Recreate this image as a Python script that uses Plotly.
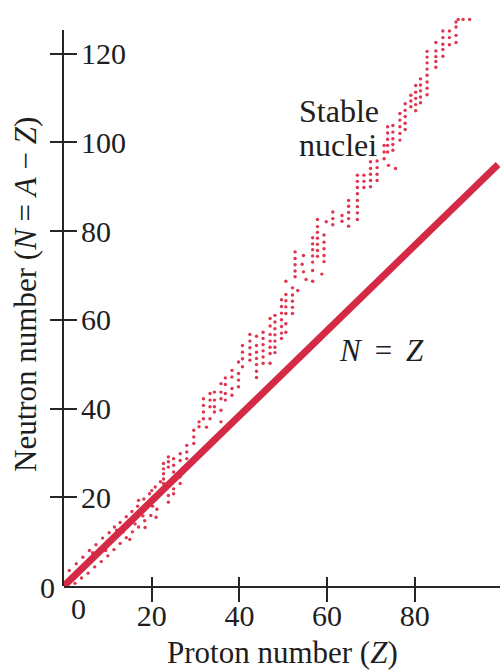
import plotly.graph_objects as go

# ---- data ----
# N = Z reference line (as drawn)
LINE_Z = [0, 99]
LINE_N = [0, 95]

# light stable nuclei straddling the N = Z line
LIGHT_Z = [1.2, 2.8, 4.3, 5.8, 7.3, 8.8, 10.3, 11.5, 12.8, 14.2, 15.5, 16.8, 18.2, 19.5, 20.8, 22.0,
           2.5, 4.0, 5.5, 7.0, 8.5, 10.0, 11.4, 12.8, 14.2, 15.6, 17.0, 18.4, 19.8, 21.2,
           6.5, 9.5, 12.0, 13.5, 15.0, 16.2, 17.5, 18.0, 19.0, 20.2, 21.5, 20.0, 17.0,
           15.0, 18.5, 21.0]
LIGHT_N = [3.5, 5.0, 6.5, 8.0, 9.3, 10.8, 12.0, 13.3, 14.3, 15.6, 16.8, 18.0, 19.6, 20.8, 22.3, 23.5,
           0.6, 1.8, 2.9, 4.3, 5.5, 6.8, 8.2, 9.6, 10.9, 12.2, 13.3, 14.7, 15.9, 17.3,
           7.5, 8.0, 12.6, 12.2, 14.8, 14.0, 17.0, 15.8, 18.5, 18.0, 20.3, 21.5, 19.3,
           10.5, 13.2, 15.5]

# heavier stable nuclei: proton number column -> neutron numbers
COLUMN_Z = [22.7, 23.8, 25.0, 26.5, 28.0, 29.6, 30.8, 31.8, 32.5, 33.3, 34.3, 35.8, 36.8, 38.3,
            39.8, 40.7, 42.4, 43.9, 45.4, 47.0, 48.1, 49.6, 50.6, 52.1, 52.7, 53.3, 54.3, 54.6,
            55.2, 56.7, 57.8, 58.8, 59.3, 59.8, 61.3, 63.4, 64.9, 66.9, 68.4, 69.9, 71.4, 73.0,
            73.8, 74.0, 75.0, 75.6, 76.6, 77.8, 79.1, 80.2, 81.3, 82.8, 84.8, 86.4, 87.9, 89.4,
            89.9, 91.0, 92.5]
COLUMN_N = [
    [27.6, 26.4, 25.3, 24.1, 23.1],
    [29.1, 28.0, 26.8, 20.4, 18.9],
    [28.7, 27.2, 25.7, 21.9, 20.8],
    [29.8, 28.3, 24.6, 23.1],
    [31.7, 30.2, 28.7],
    [35.1, 33.6, 32.1],
    [37.0, 35.9],
    [42.2, 40.7, 39.2, 37.7],
    [35.8],
    [43.4, 41.9, 40.4, 37.7],
    [43.7, 41.9, 40.4, 39.2],
    [45.6, 43.7, 42.2, 39.6, 37.0],
    [46.9, 45.4, 43.4, 41.9],
    [48.6, 47.1, 44.5, 43.0],
    [50.5, 47.9, 46.4, 44.9],
    [54.2, 52.7, 51.2, 49.4],
    [56.7, 55.2, 53.7, 52.2, 50.9],
    [56.3, 54.2, 52.7, 51.3, 49.9, 48.4, 47.0],
    [57.2, 55.8, 54.4, 53.0, 51.6, 50.2],
    [60.3, 58.6, 56.7, 55.2, 53.8, 52.4, 50.2],
    [61.0, 59.5, 58.0, 56.6, 55.2, 53.8, 52.6],
    [64.5, 63.0, 61.5, 60.0, 58.5, 57.0, 55.8],
    [68.7, 65.7, 64.3, 62.9, 61.4, 59.1, 57.2],
    [67.2, 65.6, 64.2, 62.8, 61.4],
    [75.3, 73.8, 72.4, 71.0, 69.7],
    [66.6],
    [72.5],
    [74.5, 70.8],
    [69.1],
    [78.5, 77.1, 75.8, 74.4, 73.0, 71.1, 68.7],
    [82.6, 81.0, 79.7, 78.4, 77.0, 75.6, 74.3],
    [70.3],
    [79.1, 77.5, 76.0, 74.5, 73.1],
    [82.1],
    [84.3, 82.8, 81.4],
    [83.5, 82.2],
    [86.9, 85.6, 84.2, 82.8, 81.1],
    [92.6, 91.2, 89.8, 88.4, 86.9, 85.5, 84.1, 82.6],
    [92.6, 91.2, 89.8],
    [95.6, 94.1, 92.8, 91.4, 90.0],
    [95.8, 94.3, 92.8, 91.4],
    [99.3, 97.8, 96.3],
    [103.5, 102.1, 100.7, 99.3, 97.8],
    [94.8],
    [103.8, 102.3, 100.8, 99.5, 98.2],
    [94.1],
    [106.5, 105.0, 103.5, 102.0, 100.5],
    [108.7, 107.2, 105.8, 104.3, 102.9],
    [110.6, 109.3, 108.0],
    [112.8, 111.3, 109.9, 108.5, 107.1],
    [114.3, 112.9, 111.6, 110.2, 108.9],
    [120.5, 119.2, 117.9, 116.5, 115.1, 113.6, 112.2, 110.7],
    [122.5, 120.6, 119.3, 118.2, 116.9],
    [125.1, 123.6, 122.1, 120.9, 119.4],
    [125.1, 123.6, 122.0],
    [127.1, 126.0, 124.1, 122.5],
    [127.7],
    [127.7],
    [127.7],
]

X_TICKS = [20, 40, 60, 80]
Y_TICKS = [20, 40, 60, 80, 100, 120]

# ---- styles ----
RED = "#d42a45"
DOT_RED = "#e0354f"
AX = "#262626"
TXT = "#1e1e1e"
SERIF = "Liberation Serif, Times New Roman, serif"
X_RANGE = [0, 99.43]
DATA_Y_RANGE = [0, 129.14]     # data area reaches above the drawn axis
AXIS_Y_RANGE = [0, 125.3]      # drawn y axis (same scale, shorter domain)
AXIS_Y_DOMAIN = [0, 0.97033]

zs, ns = list(LIGHT_Z), list(LIGHT_N)
for z, col in zip(COLUMN_Z, COLUMN_N):
    for n in col:
        zs.append(z)
        ns.append(n)

fig = go.Figure()
# axis-only helper traces first so the data subplot is drawn above them
fig.add_trace(go.Scatter(x=[None], y=[None], xaxis="x", yaxis="y3",
                         showlegend=False, hoverinfo="skip"))
fig.add_trace(go.Scatter(x=[None], y=[None], xaxis="x", yaxis="y4",
                         showlegend=False, hoverinfo="skip"))
fig.add_trace(go.Scatter(x=[None], y=[None], xaxis="x2", yaxis="y",
                         showlegend=False, hoverinfo="skip"))
fig.add_trace(go.Scatter(x=zs, y=ns, mode="markers",
                         marker=dict(size=3.4, color=DOT_RED, line=dict(width=0)),
                         cliponaxis=False, showlegend=False, hoverinfo="skip"))
fig.add_trace(go.Scatter(x=LINE_Z, y=LINE_N, mode="lines",
                         line=dict(color=RED, width=7),
                         cliponaxis=False, showlegend=False, hoverinfo="skip"))

tickfont = dict(family=SERIF, size=30, color=TXT)

fig.update_layout(
    width=500, height=670,
    margin=dict(l=64, r=0, t=13, b=84),
    paper_bgcolor="white", plot_bgcolor="rgba(0,0,0,0)",
    showlegend=False,
    xaxis=dict(range=X_RANGE, showline=True, linecolor=AX, linewidth=2,
               ticks="outside", ticklen=14, tickwidth=2, tickcolor=AX,
               tickvals=X_TICKS, ticktext=[str(v) for v in X_TICKS],
               tickfont=tickfont, showgrid=False, zeroline=False, fixedrange=True,
               ticklabelstandoff=-12),
    xaxis2=dict(range=X_RANGE, overlaying="x", anchor="y", side="bottom",
                ticks="inside", ticklen=9, tickwidth=2, tickcolor=AX,
                tickvals=X_TICKS, showticklabels=False, showgrid=False,
                zeroline=False, showline=False, fixedrange=True),
    yaxis=dict(range=DATA_Y_RANGE, showline=False, ticks="", showticklabels=False,
               showgrid=False, zeroline=False, fixedrange=True),
    yaxis3=dict(range=AXIS_Y_RANGE, domain=AXIS_Y_DOMAIN, anchor="x", side="left",
                showline=True, linecolor=AX, linewidth=2,
                ticks="outside", ticklen=12, tickwidth=2, tickcolor=AX,
                tickvals=Y_TICKS, showticklabels=False,
                showgrid=False, zeroline=False, fixedrange=True),
    yaxis4=dict(range=AXIS_Y_RANGE, overlaying="y3", anchor="x", side="left",
                ticks="inside", ticklen=13, tickwidth=2, tickcolor=AX,
                tickvals=Y_TICKS, ticktext=[str(v) for v in Y_TICKS],
                ticklabelposition="inside", tickfont=tickfont,
                showgrid=False, zeroline=False, showline=False, fixedrange=True,
                ticklabelstandoff=7),
    annotations=[
        dict(text="Proton number (<i>Z</i>)", xref="paper", yref="paper",
             x=0.5, y=-0.1152, xanchor="center", yanchor="middle", showarrow=False,
             font=dict(family=SERIF, size=31, color=TXT)),
        dict(text="Neutron number (<i>N</i> = <i>A</i> − <i>Z</i>)", xref="paper", yref="paper",
             x=-0.0872, y=0.5096, xanchor="center", yanchor="middle", textangle=-90,
             showarrow=False, font=dict(family=SERIF, size=31, color=TXT)),
        dict(text="0", xref="paper", yref="paper", x=-0.0378, y=-0.0026,
             xanchor="center", yanchor="middle",
             showarrow=False, font=dict(family=SERIF, size=30, color=TXT)),
        dict(text="0", xref="paper", yref="paper", x=0.0344, y=-0.0384,
             xanchor="center", yanchor="middle",
             showarrow=False, font=dict(family=SERIF, size=30, color=TXT)),
        dict(text="Stable", xref="x", yref="y", x=53.1, y=107.0, xanchor="left", yanchor="middle",
             showarrow=False, font=dict(family=SERIF, size=32, color=TXT)),
        dict(text="nuclei", xref="x", yref="y", x=53.1, y=99.5, xanchor="left", yanchor="middle",
             showarrow=False, font=dict(family=SERIF, size=32, color=TXT)),
        dict(text="<i>N</i> \u2009=\u2009 <i>Z</i>", xref="x", yref="y", x=72.5, y=53.1,
             xanchor="center", yanchor="middle", showarrow=False,
             font=dict(family=SERIF, size=31, color=TXT)),
    ],
)

fig.write_html("out.html")
